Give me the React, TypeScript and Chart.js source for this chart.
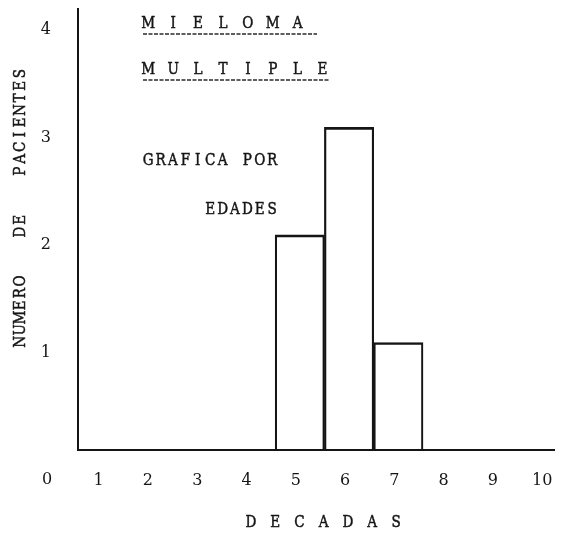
import React, { useEffect, useRef } from "react";
import { Chart, registerables } from "chart.js";

Chart.register(...registerables);

// Patients per decade of age
const decades = [1, 2, 3, 4, 5, 6, 7, 8, 9, 10];
const patients = [0, 0, 0, 0, 2, 3, 1, 0, 0, 0];
const yTicks = [0, 1, 2, 3, 4];

const titleLines = ["M I E L O M A", "M U L T I P L E"];
const subtitleLines = ["GRAFICA POR", "     EDADES"];
const xTitle = "D E C A D A S";
const yTitle = "NUMERO   DE   PACIENTES";

const INK = "#151515";
const TYPE_FONT = '17px "DejaVu Serif"';
const NUM_FONT = { family: "DejaVu Serif", size: 16 };

// Draws a string on a fixed typewriter pitch, one glyph per cell.
function typeLine(
  ctx: CanvasRenderingContext2D,
  text: string,
  x: number,
  y: number,
  pitch: number
) {
  ctx.font = TYPE_FONT;
  ctx.textAlign = "center";
  ctx.textBaseline = "alphabetic";
  ctx.fillStyle = INK;
  ctx.strokeStyle = INK;
  ctx.lineWidth = 0.5;
  Array.from(text).forEach((ch, i) => {
    if (ch === " ") return;
    ctx.save();
    ctx.translate(x + pitch * (i + 0.5), y);
    ctx.scale(0.8, 1);
    ctx.fillText(ch, 0, 0);
    ctx.strokeText(ch, 0, 0);
    ctx.restore();
  });
}

function underline(ctx: CanvasRenderingContext2D, x1: number, x2: number, y: number) {
  ctx.save();
  ctx.strokeStyle = "#2a2a2a";
  ctx.lineWidth = 1.4;
  ctx.setLineDash([4, 1.5]);
  ctx.beginPath();
  ctx.moveTo(x1, y);
  ctx.lineTo(x2, y);
  ctx.stroke();
  ctx.restore();
}

const typedText = {
  id: "typedText",
  afterDraw(chart: Chart) {
    const ctx = chart.ctx;
    const { left, bottom } = chart.chartArea;
    ctx.save();

    // Heading inside the plot
    typeLine(ctx, titleLines[0], left + 64, 20, 12.45);
    underline(ctx, left + 65, left + 239, 26);
    typeLine(ctx, titleLines[1], left + 64, 66, 12.45);
    underline(ctx, left + 65, left + 252, 72);
    typeLine(ctx, subtitleLines[0], left + 64, 157, 12.4);
    typeLine(ctx, subtitleLines[1], left + 64, 206, 12.4);

    // Axis titles
    typeLine(ctx, xTitle, left + 167, bottom + 77, 12.1);
    ctx.save();
    ctx.translate(17, 340);
    ctx.rotate(-Math.PI / 2);
    typeLine(ctx, yTitle, 0, 0, 12.2);
    ctx.restore();

    // Zero of the count axis, typed on the decade row
    ctx.font = '16px "DejaVu Serif"';
    ctx.textAlign = "center";
    ctx.textBaseline = "middle";
    ctx.fillStyle = INK;
    ctx.fillText("0", 39, bottom + 30);

    ctx.restore();
  },
};

export default function App() {
  const canvasRef = useRef<HTMLCanvasElement | null>(null);

  useEffect(() => {
    const canvas = canvasRef.current;
    if (!canvas) return;
    const chart = new Chart(canvas, {
      type: "bar",
      data: {
        datasets: [
          {
            data: decades.map((d, i) => ({ x: d, y: patients[i] })),
            backgroundColor: "rgba(255,255,255,0)",
            borderColor: INK,
            borderWidth: { top: 2, left: 1.5, right: 1.5, bottom: 0 },
            borderSkipped: "bottom",
            barPercentage: 1,
            categoryPercentage: 1,
          },
        ],
      },
      options: {
        animation: false,
        responsive: false,
        devicePixelRatio: 1,
        events: [],
        layout: { padding: 0 },
        plugins: {
          legend: { display: false },
          tooltip: { enabled: false },
          title: { display: false },
        },
        scales: {
          x: {
            type: "linear",
            min: 0.5,
            max: 10.34,
            offset: false,
            grid: { display: false, drawTicks: false },
            border: { display: true, color: INK, width: 2 },
            ticks: {
              color: INK,
              font: NUM_FONT,
              padding: 21,
              labelOffset: -4,
              autoSkip: false,
              maxRotation: 0,
              callback: (v: any) => String(v),
            },
            afterBuildTicks: (s: any) => {
              s.ticks = decades.map((v) => ({ value: v }));
            },
            afterFit: (s: any) => {
              s.height = 78;
              s.paddingLeft = 0;
              s.paddingRight = 0;
            },
          },
          y: {
            min: 0,
            max: 4.11,
            grid: { display: false, drawTicks: false },
            border: { display: true, color: INK, width: 2 },
            ticks: {
              color: INK,
              font: NUM_FONT,
              padding: 27,
              labelOffset: 10,
              callback: (v: any) => (v === 0 ? "" : String(v)),
            },
            afterBuildTicks: (s: any) => {
              s.ticks = yTicks.map((v) => ({ value: v }));
            },
            afterFit: (s: any) => {
              s.width = 70;
              s.paddingTop = 0;
              s.paddingBottom = 0;
            },
          },
        },
      },
      plugins: [typedText],
    });
    return () => chart.destroy();
  }, []);

  return (
    <div>
      <canvas ref={canvasRef} width={555} height={520} style={{ display: "block" }} />
    </div>
  );
}
